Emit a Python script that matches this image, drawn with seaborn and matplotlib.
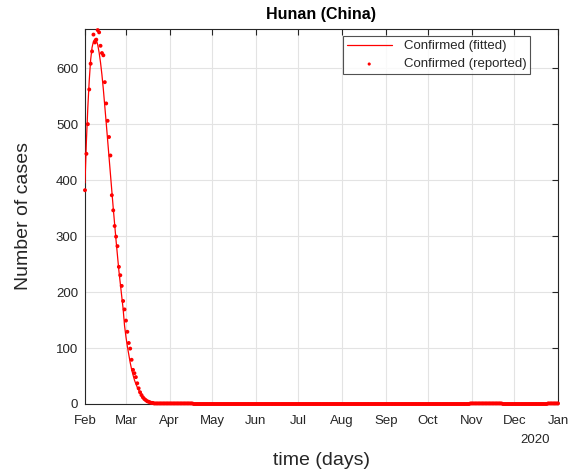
import matplotlib
matplotlib.use("Agg")
import matplotlib.pyplot as plt
import matplotlib.dates as mdates
import numpy as np
import pandas as pd
import seaborn as sns

# ---------------- data ----------------
start_date = "2020-02-01"
end_date = "2021-01-01"

# reported confirmed (active) cases, one value per day starting Feb 1
reported_head = [382, 447, 500, 562, 608, 630, 660, 646, 651, 668,
                 664, 640, 627, 623, 575, 537, 506, 477, 444, 373,
                 346, 318, 299, 282, 245, 230, 211, 184, 169, 149,
                 129, 109, 99, 79, 61, 55, 48, 37, 28, 21,
                 16, 12, 9, 7, 5, 4, 3, 2, 2, 1]
# remaining days as (value, number of days) runs
reported_tail_runs = [(1, 27), (0, 196), (1, 23), (0, 32), (1, 8)]

# fitted curve, one value per day starting Feb 1
fitted_head = [395, 470, 530, 578, 615, 637, 648, 652, 650, 642,
               628, 610, 588, 562, 533, 503, 472, 440, 410, 380,
               350, 320, 292, 265, 238, 215, 192, 170, 140, 120,
               103, 88, 74, 62, 52, 43, 36, 30, 25, 20,
               16, 13, 10, 8, 6, 5, 4, 3, 2, 2, 1, 1]
fitted_tail_runs = [(0, 284)]

month_labels = ["Feb", "Mar", "Apr", "May", "Jun", "Jul", "Aug",
                "Sep", "Oct", "Nov", "Dec", "Jan"]
year_label = "2020"
y_ticks = [0, 100, 200, 300, 400, 500, 600]


def expand(head, runs):
    vals = list(head)
    for v, n in runs:
        vals.extend([v] * n)
    return vals


reported = expand(reported_head, reported_tail_runs)
fitted = expand(fitted_head, fitted_tail_runs)
dates_rep = pd.date_range(start_date, periods=len(reported), freq="D")
dates_fit = pd.date_range(start_date, periods=len(fitted), freq="D")
df_rep = pd.DataFrame({"date": dates_rep, "cases": reported})
df_fit = pd.DataFrame({"date": dates_fit, "cases": fitted})

# ---------------- style ----------------
sns.set_style("white")
plt.rcParams["font.family"] = ["Liberation Sans", "DejaVu Sans"]

fig = plt.figure(figsize=(5.78, 4.71), dpi=100)
ax = fig.add_axes([85 / 578, 67 / 471, 473 / 578, 375 / 471])

sns.lineplot(data=df_fit, x="date", y="cases", ax=ax, color="#ff0000",
             linewidth=0.9, label="Confirmed (fitted)", zorder=3)
sns.scatterplot(data=df_rep, x="date", y="cases", ax=ax, color="#ff0000",
                s=8, edgecolor="none", linewidth=0, marker="o",
                label="Confirmed (reported)", zorder=4, clip_on=False)

ax.set_xlim(pd.Timestamp(start_date), pd.Timestamp(end_date))
ax.set_ylim(0, 670)
ax.set_yticks(y_ticks)
ax.xaxis.set_major_locator(mdates.MonthLocator())
ax.set_xticks(ax.get_xticks())
ax.set_xticklabels(month_labels)

ax.grid(True, color="#e3e3e3", linewidth=0.8)
ax.set_axisbelow(True)
for s in ax.spines.values():
    s.set_color("#262626")
    s.set_linewidth(0.8)
ax.tick_params(axis="both", which="both", direction="in", length=4,
               width=0.8, color="#262626", labelsize=9.5,
               labelcolor="#262626", top=True, right=True)
ax.tick_params(axis="x", pad=8)
ax.tick_params(axis="y", pad=5)

ax.set_xlabel("time (days)", fontsize=14, color="#262626", labelpad=18)
ax.set_ylabel("Number of cases", fontsize=14, color="#262626", labelpad=17)
ax.set_title("Hunan (China)", fontsize=11.5, fontweight="bold",
             color="black", pad=7)

ax.text(0.952, -0.095, year_label, transform=ax.transAxes, ha="center",
        va="center", fontsize=9.5, color="#262626")

leg = ax.legend(loc="upper right", bbox_to_anchor=(0.941, 0.981),
                borderaxespad=0,
                fontsize=9.5, frameon=True, fancybox=False,
                edgecolor="#262626", borderpad=0.3, labelspacing=0.45,
                handlelength=3.4, handletextpad=0.9, markerscale=0.8)
leg.get_frame().set_linewidth(0.8)

fig.savefig("out.png", dpi=100)
